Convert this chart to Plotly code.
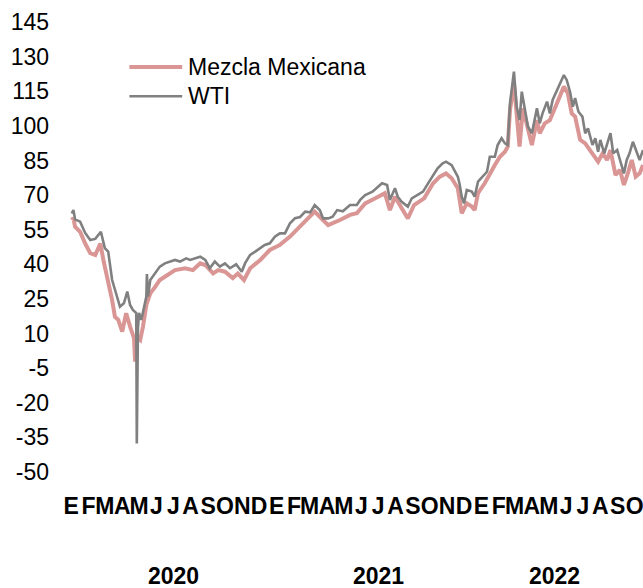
import pandas as pd
import plotly.graph_objects as go

# WTI and Mezcla Mexicana, US$ per barrel
wti_dates = [
    "2020-01-02", "2020-01-05", "2020-01-08", "2020-01-17", "2020-01-26", "2020-02-04",
    "2020-02-13", "2020-02-23", "2020-03-01", "2020-03-07", "2020-03-14", "2020-03-19",
    "2020-03-25", "2020-03-28", "2020-04-04", "2020-04-10", "2020-04-15", "2020-04-20",
    "2020-04-26", "2020-04-27", "2020-04-29", "2020-05-01", "2020-05-05", "2020-05-10",
    "2020-05-14", "2020-05-15", "2020-05-17", "2020-05-21", "2020-05-30", "2020-06-07",
    "2020-06-16", "2020-06-25", "2020-07-04", "2020-07-13", "2020-07-24", "2020-07-31",
    "2020-08-09", "2020-08-18", "2020-08-27", "2020-09-04", "2020-09-13", "2020-09-22",
    "2020-10-01", "2020-10-10", "2020-10-21", "2020-10-31", "2020-11-06", "2020-11-15",
    "2020-11-24", "2020-12-03", "2020-12-11", "2020-12-20", "2020-12-29", "2021-01-07",
    "2021-01-16", "2021-01-25", "2021-02-03", "2021-02-12", "2021-02-21", "2021-03-02",
    "2021-03-10", "2021-03-19", "2021-03-25", "2021-04-03", "2021-04-11", "2021-04-19",
    "2021-04-29", "2021-05-12", "2021-05-24", "2021-05-30", "2021-06-08", "2021-06-21",
    "2021-07-01", "2021-07-08", "2021-07-17", "2021-07-22", "2021-07-31", "2021-08-05",
    "2021-08-12", "2021-08-23", "2021-08-30", "2021-09-10", "2021-09-19", "2021-09-28",
    "2021-10-07", "2021-10-15", "2021-10-24", "2021-10-30", "2021-11-09", "2021-11-16",
    "2021-11-20", "2021-11-23", "2021-11-27", "2021-12-01", "2021-12-06", "2021-12-15",
    "2021-12-20", "2021-12-26", "2022-01-03", "2022-01-11", "2022-01-16", "2022-01-25",
    "2022-01-30", "2022-02-06", "2022-02-12", "2022-02-17", "2022-02-21", "2022-02-28",
    "2022-03-05", "2022-03-10", "2022-03-14", "2022-03-19", "2022-03-25", "2022-04-01",
    "2022-04-06", "2022-04-10", "2022-04-15", "2022-04-20", "2022-04-28", "2022-05-03",
    "2022-05-08", "2022-05-15", "2022-05-21", "2022-05-28", "2022-06-02", "2022-06-08",
    "2022-06-13", "2022-06-17", "2022-06-23", "2022-06-30", "2022-07-05", "2022-07-10",
    "2022-07-18", "2022-07-23", "2022-07-28", "2022-08-01", "2022-08-08", "2022-08-13",
    "2022-08-19", "2022-08-24", "2022-08-31", "2022-09-05", "2022-09-12", "2022-09-17",
    "2022-09-22", "2022-09-28", "2022-10-03", "2022-10-10", "2022-10-16",
]
wti_values = [
    62.0, 63.5, 59.5, 58.5, 53.6, 50.5,
    51.0, 54.1, 47.0, 45.5, 33.2, 28.9,
    24.5, 21.6, 23.1, 28.2, 22.4, 20.2,
    18.9, -37.6, 12.0, 19.0, 15.9, 22.0,
    26.0, 35.8, 26.0, 33.2, 36.2, 39.0,
    40.4, 41.2, 41.9, 41.2, 42.6, 41.9,
    42.6, 43.3, 41.9, 38.3, 41.2, 39.0,
    40.4, 38.3, 40.0, 36.8, 40.5, 44.1,
    45.5, 47.0, 48.4, 49.1, 52.0, 53.4,
    53.4, 57.8, 60.0, 60.5, 62.8, 62.5,
    65.7, 63.5, 59.9, 59.9, 60.6, 63.5,
    63.0, 65.7, 65.7, 67.9, 70.0, 71.5,
    73.6, 75.1, 74.4, 67.9, 73.0, 69.3,
    67.1, 65.0, 68.6, 70.0, 71.5, 75.1,
    78.7, 81.6, 83.8, 84.5, 83.0, 79.4,
    78.0, 75.0, 69.3, 66.4, 72.2, 71.5,
    69.3, 75.8, 78.0, 80.1, 86.6, 86.6,
    91.7, 94.6, 92.4, 91.7, 109.8, 123.5,
    108.3, 102.5, 114.8, 108.3, 99.6, 96.8,
    102.5, 107.6, 101.1, 105.4, 110.5, 105.4,
    111.2, 114.8, 117.7, 122.0, 119.9, 114.8,
    108.3, 112.0, 106.1, 104.0, 96.8, 98.9,
    91.7, 94.6, 88.8, 93.9, 88.1, 92.4,
    96.8, 88.1, 89.5, 85.2, 79.4, 85.2,
    88.1, 93.1, 89.5, 85.2, 89.5,
]

mme_dates = [
    "2020-01-02", "2020-01-05", "2020-01-08", "2020-01-17", "2020-01-26", "2020-02-04",
    "2020-02-13", "2020-02-22", "2020-02-28", "2020-03-07", "2020-03-14", "2020-03-19",
    "2020-03-25", "2020-04-01", "2020-04-08", "2020-04-15", "2020-04-20", "2020-04-22",
    "2020-04-24", "2020-04-26", "2020-05-03", "2020-05-08", "2020-05-14", "2020-05-21",
    "2020-05-30", "2020-06-07", "2020-06-16", "2020-06-25", "2020-07-04", "2020-07-22",
    "2020-08-05", "2020-08-18", "2020-08-27", "2020-09-10", "2020-09-19", "2020-10-01",
    "2020-10-15", "2020-10-24", "2020-11-04", "2020-11-15", "2020-12-03", "2020-12-20",
    "2021-01-07", "2021-01-25", "2021-02-12", "2021-02-21", "2021-03-02", "2021-03-10",
    "2021-03-19", "2021-04-03", "2021-04-24", "2021-05-12", "2021-05-24", "2021-06-08",
    "2021-06-26", "2021-07-13", "2021-07-22", "2021-07-31", "2021-08-12", "2021-08-23",
    "2021-09-03", "2021-09-21", "2021-10-07", "2021-10-19", "2021-10-30", "2021-11-09",
    "2021-11-20", "2021-11-27", "2021-12-06", "2021-12-15", "2021-12-20", "2021-12-26",
    "2022-01-07", "2022-01-16", "2022-01-25", "2022-02-03", "2022-02-12", "2022-02-17",
    "2022-02-21", "2022-02-28", "2022-03-05", "2022-03-10", "2022-03-16", "2022-03-23",
    "2022-04-01", "2022-04-10", "2022-04-15", "2022-04-24", "2022-05-03", "2022-05-12",
    "2022-05-21", "2022-05-28", "2022-06-04", "2022-06-11", "2022-06-17", "2022-06-26",
    "2022-07-05", "2022-07-14", "2022-07-23", "2022-07-28", "2022-08-05", "2022-08-13",
    "2022-08-19", "2022-08-28", "2022-09-05", "2022-09-12", "2022-09-19", "2022-09-26",
    "2022-10-03", "2022-10-10", "2022-10-16",
]
mme_values = [
    59.2, 60.0, 56.3, 54.1, 49.0, 44.8,
    44.0, 49.0, 41.2, 33.2, 24.5, 17.3,
    15.9, 10.8, 18.8, 13.0, 8.7, 8.0,
    -2.2, 8.7, 7.2, 13.0, 22.4, 27.4,
    30.3, 33.2, 34.6, 36.0, 37.5, 38.3,
    37.5, 40.4, 39.7, 36.1, 37.5, 36.8,
    34.0, 36.0, 33.2, 38.3, 41.9, 46.2,
    48.4, 52.0, 56.3, 58.5, 60.5, 62.8,
    60.6, 57.0, 59.2, 61.4, 62.1, 66.4,
    68.6, 70.8, 63.5, 69.3, 64.3, 59.9,
    65.7, 68.6, 75.1, 78.0, 79.4, 77.3,
    73.0, 62.1, 66.4, 65.0, 63.5, 70.8,
    75.1, 79.4, 83.0, 86.6, 88.8, 91.0,
    106.9, 118.4, 104.0, 91.0, 107.6, 101.1,
    91.7, 102.5, 96.8, 101.1, 102.5, 107.6,
    113.4, 117.0, 114.1, 105.4, 104.0, 93.9,
    92.4, 89.5, 86.6, 84.5, 88.1, 85.2,
    89.5, 78.7, 80.9, 74.4, 79.4, 85.2,
    78.0, 79.4, 83.0,
]

Y_TICKS = list(range(-50, 146, 15))
MONTH_LETTERS = ["E", "F", "M", "A", "M", "J", "J", "A", "S", "O", "N", "D"]
YEARS = ["2020", "2021", "2022"]
YEAR_LABEL_DATES = ["2020-07-02", "2021-07-02", "2022-05-12"]

PINK = "#d99694"
GREY = "#808080"
FONT = "Liberation Sans, Arial, sans-serif"

month_ticks = pd.date_range("2020-01-01", "2022-10-01", freq="MS")
month_text = [MONTH_LETTERS[d.month - 1] for d in month_ticks]

fig = go.Figure()
fig.add_trace(go.Scatter(
    x=pd.to_datetime(mme_dates), y=mme_values, name="Mezcla Mexicana",
    mode="lines", line=dict(color=PINK, width=4),
))
fig.add_trace(go.Scatter(
    x=pd.to_datetime(wti_dates), y=wti_values, name="WTI",
    mode="lines", line=dict(color=GREY, width=2.6),
))

# legend drawn by hand so the line samples are as long as in the original
for i, (name, colour, width) in enumerate([("Mezcla Mexicana", PINK, 4), ("WTI", GREY, 2.6)]):
    ly = 0.9 - i * 0.065
    fig.add_shape(type="line", xref="paper", yref="paper",
                  x0=0.125, x1=0.215, y0=ly, y1=ly,
                  line=dict(color=colour, width=width))
    fig.add_annotation(text=name, xref="paper", yref="paper", x=0.222, y=ly,
                       xanchor="left", yanchor="middle", showarrow=False,
                       font=dict(size=23, color="black", family=FONT))

for year, d in zip(YEARS, YEAR_LABEL_DATES):
    fig.add_annotation(text=year, x=d, xref="x", yref="paper", y=-0.231,
                       xanchor="center", yanchor="middle", showarrow=False,
                       font=dict(size=23, color="black", family=FONT, weight="bold"))

fig.update_layout(
    width=643, height=588,
    margin=dict(l=56, r=0, t=22, b=116),
    paper_bgcolor="white", plot_bgcolor="white",
    showlegend=False,
    font=dict(family=FONT, size=23, color="black"),
    xaxis=dict(
        type="date", range=["2019-12-05", "2022-10-16"],
        tickmode="array", tickvals=month_ticks, ticktext=month_text,
        tickangle=0, showgrid=False, zeroline=False, showline=False, ticks="",
        tickfont=dict(size=23, family=FONT, weight="bold"),
        ticklabelstandoff=18, automargin=False, ticklabeloverflow="allow",
    ),
    yaxis=dict(
        range=[-50, 145], tickmode="array", tickvals=Y_TICKS,
        ticktext=[str(v) for v in Y_TICKS],
        showgrid=False, zeroline=False, showline=False, ticks="",
        tickfont=dict(size=23, family=FONT),
        ticklabelstandoff=6, automargin=False,
    ),
)

fig.write_html(
    "out.html",
    config={"displayModeBar": False},
    post_script="document.body.style.margin = '0';",
)
